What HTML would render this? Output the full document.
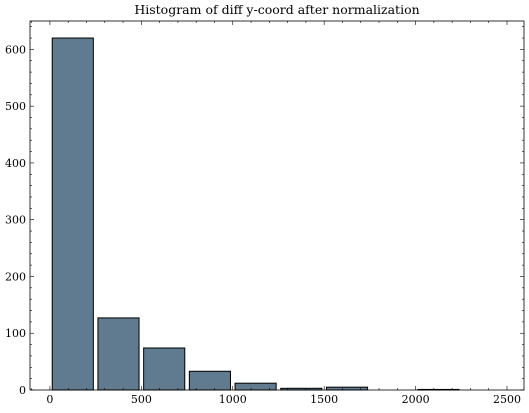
<!DOCTYPE html>
<html><head><meta charset="utf-8"><style>
body{margin:0;background:#fff}
svg text{font-family:"DejaVu Serif","Liberation Serif",serif;font-size:11px;fill:#000}
</style></head><body>
<svg id="chart" width="529" height="408">
<text x="277" y="14" text-anchor="middle" font-size="12.5" style="font-size:12.5px">Histogram of diff y-coord after normalization</text>
<g id="bars"></g>
<g id="axes"></g>
</svg>
<script>
const binStarts=[0,250,500,750,1000,1250,1500,1750,2000,2250];
const counts=[620,127,74,33,12,3,5,0,1,0];
const xTicks=[0,500,1000,1500,2000,2500];
const yTicks=[0,100,200,300,400,500,600];
const binWidth=250;
const L=30,R=524,T=21,B=390;
const xMin=-109,xMax=2593,yMin=0,yMax=650;
const sx=v=>L+(v-xMin)/(xMax-xMin)*(R-L);
const sy=v=>B-(v-yMin)/(yMax-yMin)*(B-T);
const NS="http://www.w3.org/2000/svg";
function mk(t,a,p){const e=document.createElementNS(NS,t);for(const k in a)e.setAttribute(k,a[k]);p.appendChild(e);return e;}
const bars=document.getElementById('bars'),axes=document.getElementById('axes');
binStarts.forEach((s,i)=>{
 if(counts[i]<=0)return;
 const x0=sx(s+binWidth*0.05),x1=sx(s+binWidth*0.95);
 const r=mk('rect',{x:x0,y:sy(counts[i]),width:x1-x0,height:sy(0)-sy(counts[i]),fill:'#607b8f',stroke:'#000','stroke-width':1},bars);
 
 
});
const f=mk('rect',{x:L,y:T,width:R-L,height:B-T,fill:'none',stroke:'#000','stroke-width':0.8},axes);


for(let v=-100;v<=xMax;v+=100){
 const x=sx(v),maj=v%500===0,len=maj?4:2;
 mk('line',{x1:x,x2:x,y1:B,y2:B-len,stroke:'#000','stroke-width':0.6},axes);
 mk('line',{x1:x,x2:x,y1:T,y2:T+len,stroke:'#000','stroke-width':0.6},axes);
}
xTicks.forEach(v=>{const t=mk('text',{x:sx(v),y:B+13,'text-anchor':'middle'},axes);t.textContent=v;
 
 });
for(let v=0;v<=yMax;v+=20){
 const y=sy(v),maj=v%100===0,len=maj?4:2;
 mk('line',{x1:L,x2:L+len,y1:y,y2:y,stroke:'#000','stroke-width':0.6},axes);
 mk('line',{x1:R,x2:R-len,y1:y,y2:y,stroke:'#000','stroke-width':0.6},axes);
}
yTicks.forEach(v=>{const t=mk('text',{x:L-4,y:sy(v)+4,'text-anchor':'end'},axes);t.textContent=v;
 
 });
</script>
</body></html>
